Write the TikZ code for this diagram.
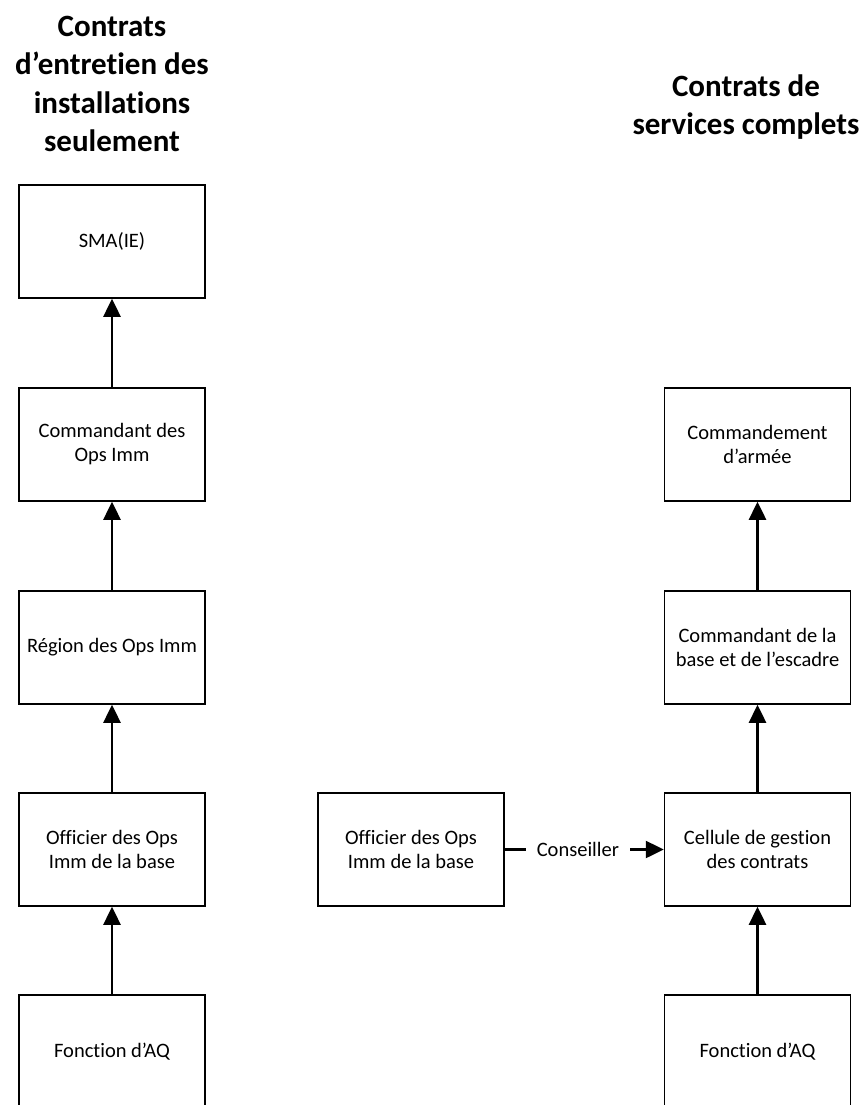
\documentclass[tikz,border=0pt]{standalone}
\usepackage{fontspec}
\setmainfont{Carlito}[Ligatures=NoCommon]
\usetikzlibrary{arrows.meta}
\tikzset{
  box/.style={draw, line width=1.5pt, rectangle, minimum width=186pt, minimum height=113pt,
    inner sep=0pt, align=center, font=\fontsize{20.5}{24}\selectfont},
  heading/.style={align=center, inner sep=0pt, font=\fontsize{31}{38.5}\selectfont\bfseries},
  link/.style={line width=2.5pt, -{Triangle[length=18pt,width=17pt]}},
  lbl/.style={fill=white, inner xsep=11pt, inner ysep=2pt, font=\fontsize{20.5}{24}\selectfont}
}
\begin{document}
\begin{tikzpicture}[x=1pt,y=-1pt]
\clip (0,0) rectangle (865,1105);
\node[heading] (hl) at (112,84) {Contrats\\d’entretien des\\installations\\seulement};
\node[heading] (hr) at (746,107) {Contrats de\\services complets};

\node[box] (l1) at (112,241.5) {SMA(IE)};
\node[box] (l2) at (112,444.5) {Commandant des\\Ops Imm};
\node[box] (l3) at (112,647.5) {Région des Ops Imm};
\node[box] (l4) at (112,849.5) {Officier des Ops\\Imm de la base};
\node[box] (l5) at (112,1051.5) {Fonction d’AQ};

\node[box] (m4) at (411,849.5) {Officier des Ops\\Imm de la base};

\node[box] (r2) at (757.5,444.5) {Commandement\\d’armée};
\node[box] (r3) at (757.5,647.5) {Commandant de la\\base et de l’escadre};
\node[box] (r4) at (757.5,849.5) {Cellule de gestion\\des contrats};
\node[box] (r5) at (757.5,1051.5) {Fonction d’AQ};

\draw[link] (l2.north) -- (l1.south);
\draw[link] (l3.north) -- (l2.south);
\draw[link] (l4.north) -- (l3.south);
\draw[link] (l5.north) -- (l4.south);

\draw[link] (r3.north) -- (r2.south);
\draw[link] (r4.north) -- (r3.south);
\draw[link] (r5.north) -- (r4.south);

\draw[link] (m4.east) -- node[lbl, pos=0.46] (cons) {Conseiller} (r4.west);
\end{tikzpicture}
\end{document}
